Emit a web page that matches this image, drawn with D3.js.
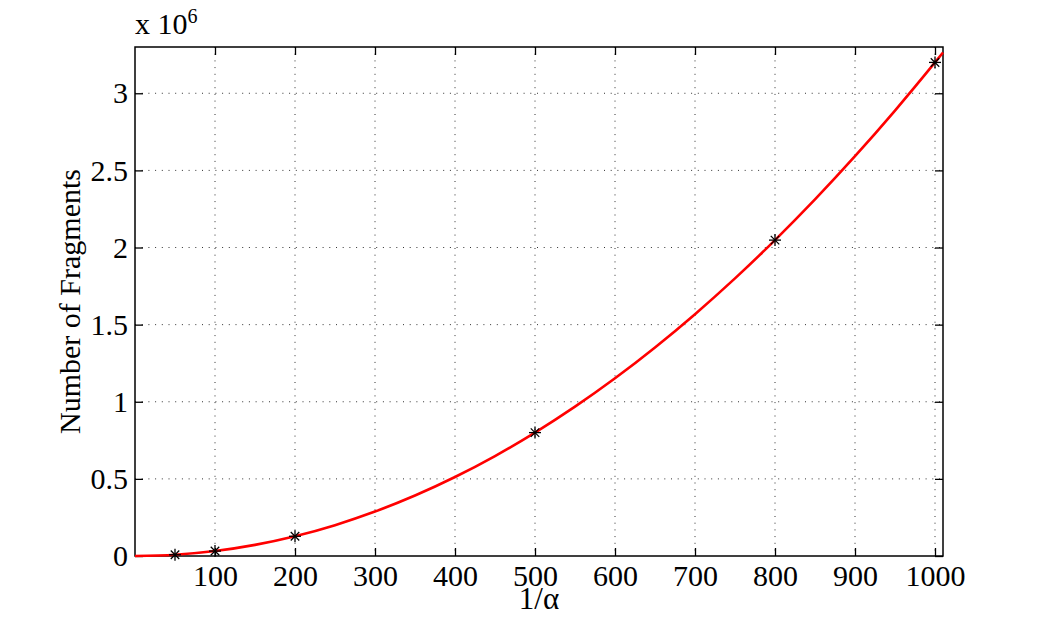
<!DOCTYPE html>
<html>
<head>
<meta charset="utf-8">
<script src="https://cdn.jsdelivr.net/npm/d3@7"></script>
<style>
    body { margin: 0; background: #fff; }
    text { font-family: "Liberation Serif", "Times New Roman", serif; fill: #000; }
</style>
</head>
<body>
<svg id="chart"></svg>
<script>
// measured points (asterisks), y in units of 10^6
const pointsX = [50, 100, 200, 500, 800, 1000];
const pointsY = [0.008, 0.032, 0.128, 0.8, 2.048, 3.2];

// fitted red curve
const curveX = [0, 50, 100, 150, 200, 250, 300, 350, 400, 450, 500, 550, 600, 650, 700, 750, 800, 850, 900, 950, 1000, 1010];
const curveY = [0, 0.008, 0.032, 0.072, 0.128, 0.2, 0.288, 0.392, 0.512, 0.648, 0.8, 0.968, 1.152, 1.352, 1.568, 1.8, 2.048, 2.312, 2.592, 2.888, 3.2, 3.264];

// tick labels
const xTicks = [100, 200, 300, 400, 500, 600, 700, 800, 900, 1000];
const xTickLabels = ["100", "200", "300", "400", "500", "600", "700", "800", "900", "1000"];
const yTicks = [0, 0.5, 1, 1.5, 2, 2.5, 3];
const yTickLabels = ["0", "0.5", "1", "1.5", "2", "2.5", "3"];

// canvas
const canvWidth = 1041;
const canvHeight = 625;
const margin = { top: 47, right: 98, bottom: 69, left: 135 };
const width = canvWidth - margin.left - margin.right;
const height = canvHeight - margin.top - margin.bottom;

let svg = d3.select("#chart")
    .attr("width", canvWidth)
    .attr("height", canvHeight);

let g = svg.append("g")
    .attr("transform", "translate(" + margin.left + "," + margin.top + ")");

// scales
const x = d3.scaleLinear().domain([0, 1010]).range([0, width]);
const y = d3.scaleLinear().domain([0, 3.3]).range([height, 0]);

// dotted grid
g.append("g")
    .selectAll("line")
    .data(xTicks)
    .enter().append("line")
    .attr("x1", d => x(d)).attr("x2", d => x(d))
    .attr("y1", 0).attr("y2", height)
    .attr("stroke", "#333")
    .attr("stroke-width", 1)
    .attr("stroke-dasharray", "1,5.7");

g.append("g")
    .selectAll("line")
    .data(yTicks.filter(d => d > 0))
    .enter().append("line")
    .attr("x1", 0).attr("x2", width)
    .attr("y1", d => y(d)).attr("y2", d => y(d))
    .attr("stroke", "#333")
    .attr("stroke-width", 1)
    .attr("stroke-dasharray", "1,5.7");

// axes with inward ticks on all four sides
const tickLen = 8;
g.append("g")
    .attr("transform", "translate(0," + height + ")")
    .call(d3.axisBottom(x).tickValues(xTicks).tickSize(-tickLen).tickPadding(9)
        .tickFormat((d, i) => xTickLabels[i]))
    .call(a => a.select(".domain").remove());
g.append("g")
    .call(d3.axisTop(x).tickValues(xTicks).tickSize(-tickLen).tickFormat(""))
    .call(a => a.select(".domain").remove());
g.append("g")
    .call(d3.axisLeft(y).tickValues(yTicks).tickSize(-tickLen).tickPadding(7)
        .tickFormat((d, i) => yTickLabels[i]))
    .call(a => a.select(".domain").remove());
g.append("g")
    .attr("transform", "translate(" + width + ",0)")
    .call(d3.axisRight(y).tickValues(yTicks).tickSize(-tickLen).tickFormat(""))
    .call(a => a.select(".domain").remove());

g.selectAll(".tick line").attr("stroke", "#000").attr("stroke-width", 1.3);
g.selectAll(".tick text")
    .style("font-family", "'Liberation Serif', serif")
    .style("font-size", "30px")
    .attr("fill", "#000");

// box
g.append("rect")
    .attr("x", 0).attr("y", 0)
    .attr("width", width).attr("height", height)
    .attr("fill", "none")
    .attr("stroke", "#000")
    .attr("stroke-width", 1.5);

// red fitted curve
const curveData = curveX.map((d, i) => ({ x: d, y: curveY[i] }));
g.append("path")
    .datum(curveData)
    .attr("fill", "none")
    .attr("stroke", "#ff0000")
    .attr("stroke-width", 2.6)
    .attr("d", d3.line().x(d => x(d.x)).y(d => y(d.y)).curve(d3.curveMonotoneX));

// asterisk markers
const pointData = pointsX.map((d, i) => ({ x: d, y: pointsY[i] }));
let marks = g.append("g")
    .selectAll("g")
    .data(pointData)
    .enter().append("g")
    .attr("transform", d => "translate(" + x(d.x) + "," + y(d.y) + ")");
const r = 6;
[0, 45, 90, 135].forEach(function (a) {
    const rad = a * Math.PI / 180;
    marks.append("line")
        .attr("x1", -r * Math.cos(rad)).attr("y1", -r * Math.sin(rad))
        .attr("x2", r * Math.cos(rad)).attr("y2", r * Math.sin(rad))
        .attr("stroke", "#000")
        .attr("stroke-width", 1.3);
});

// exponent label
let expo = svg.append("text")
    .attr("x", margin.left)
    .attr("y", 34)
    .style("font-size", "30px");
expo.append("tspan").text("x 10");
expo.append("tspan").attr("dy", -11).style("font-size", "20px").text("6");

// axis labels
svg.append("text")
    .attr("x", margin.left + width / 2)
    .attr("y", 609)
    .attr("text-anchor", "middle")
    .style("font-size", "31px")
    .text("1/α");

svg.append("text")
    .attr("transform", "translate(80," + (margin.top + height / 2) + ") rotate(-90)")
    .attr("text-anchor", "middle")
    .style("font-size", "30px")
    .text("Number of Fragments");
</script>
</body>
</html>
